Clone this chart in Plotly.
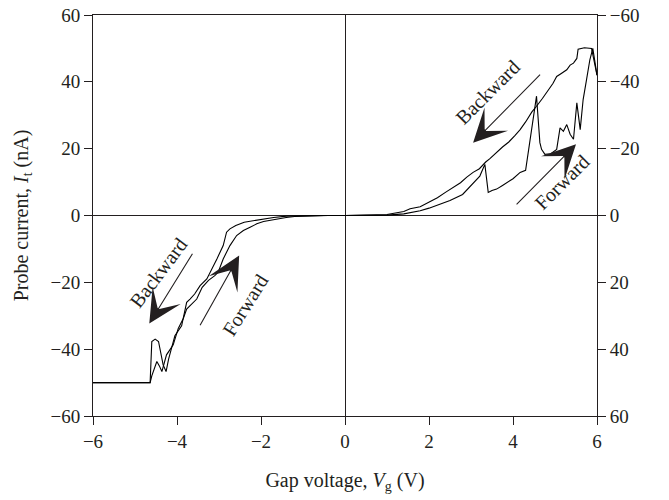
import plotly.graph_objects as go

# Forward sweep (-6 V -> 6 V)
fwd_v = [-6.0, -4.64, -4.60, -4.56, -4.48, -4.42, -4.36, -4.25, -4.09, -3.97, -3.85, -3.77,
         -3.65, -3.53, -3.40, -3.25, -3.10, -3.02, -2.90, -2.82, -2.74, -2.58, -2.42, -2.26,
         -2.10, -1.94, -1.63, -1.40, -1.20, -0.80, -0.40, 0.0, 0.5, 1.0, 1.4, 1.79, 2.0,
         2.26, 2.5, 2.8, 3.0, 3.21, 3.33, 3.41, 3.50, 3.61, 3.75, 3.85, 4.0, 4.17, 4.30,
         4.56, 4.64, 4.68, 4.76, 4.9, 5.04, 5.12, 5.2, 5.28, 5.36, 5.44, 5.52, 5.6, 5.67,
         5.75, 5.83, 5.90, 6.0]
fwd_i = [-50, -50, -48, -46.7, -43.7, -45, -46.7, -41.7, -38.7, -33.8, -30.8, -28,
         -26.5, -25, -21.5, -19.4, -18, -17, -13, -11, -9, -6, -4.5, -3.5,
         -2.5, -1.8, -1.0, -0.6, -0.3, -0.1, 0, 0, 0, 0.1, 0.5, 1.4, 2.2,
         3.4, 4.5, 6.3, 9, 11.8, 15.3, 6.9, 7.5, 7.9, 9, 9.9, 11, 12.9, 13.5,
         35.7, 21.8, 19.8, 18.3, 18.5, 19.8, 26.2, 25.2, 27.2, 24.3, 22.8, 33.7, 25.7, 34.7,
         40.6, 46.6, 50, 42]

# Backward sweep (6 V -> -6 V)
bwd_v = [6.0, 5.87, 5.70, 5.55, 5.52, 5.44, 5.36, 5.28, 5.15, 5.04, 4.95, 4.8, 4.7, 4.56,
         4.45, 4.3, 4.17, 4.05, 3.9, 3.75, 3.61, 3.45, 3.35, 3.2, 3.05, 2.9, 2.75, 2.58,
         2.4, 2.2, 2.0, 1.79, 1.55, 1.4, 1.0, 0.5, 0.0, -0.5, -1.0, -1.39, -1.7, -1.9,
         -2.02, -2.2, -2.4, -2.6, -2.74, -2.82, -2.9, -3.05, -3.18, -3.29, -3.45, -3.58,
         -3.69, -3.77, -3.89, -4.05, -4.13, -4.20, -4.26, -4.33, -4.44, -4.52, -4.60,
         -4.64, -6.0]
bwd_i = [42, 50, 50.2, 49.8, 47, 45.6, 45, 43.6, 42.5, 41.6, 39.5, 36.7, 35, 32.7,
         31, 28, 25.7, 24, 22, 20.5, 18.8, 17, 16, 14, 12.9, 11.5, 9.8, 8.5,
         7, 5.3, 4, 2.6, 2.0, 1.2, 0.3, 0.1, 0, 0, -0.1, -0.2, -0.6, -1.0,
         -1.3, -1.6, -2.0, -3.0, -4, -5, -9, -13, -16, -19, -21, -23.5,
         -25, -26, -33, -36, -39.7, -43, -46.7, -44.7, -37.7, -37, -37.7,
         -50, -50]

x_ticks = [-6, -4, -2, 0, 2, 4, 6]
y_ticks = [-60, -40, -20, 0, 20, 40, 60]

FONT = "Liberation Serif"
INK = "#231f20"

fig = go.Figure()
fig.add_trace(go.Scatter(x=fwd_v, y=fwd_i, mode="lines", name="Forward",
                         line=dict(color="black", width=1.1), showlegend=False))
fig.add_trace(go.Scatter(x=bwd_v, y=bwd_i, mode="lines", name="Backward",
                         line=dict(color="black", width=1.1), showlegend=False))
# carrier for the right-hand (reversed) axis
fig.add_trace(go.Scatter(x=[0], y=[0], yaxis="y2", mode="markers",
                         marker=dict(opacity=0), showlegend=False, hoverinfo="skip"))

axis_common = dict(showgrid=False, showline=True, linecolor=INK, linewidth=1,
                   ticks="outside", ticklen=8, tickwidth=1, tickcolor=INK,
                   ticklabeloverflow="allow",
                   tickfont=dict(family=FONT, size=19, color=INK))

title_font = dict(family=FONT, size=20, color=INK)

fig.update_layout(
    width=669, height=500,
    margin=dict(l=93, r=72, t=15, b=82),
    plot_bgcolor="white", paper_bgcolor="white",
    font=dict(family=FONT, size=19, color=INK),
    xaxis=dict(range=[-6, 6], tickvals=x_ticks, mirror=True, automargin="bottom",
               zeroline=True, zerolinecolor=INK, zerolinewidth=1,
               title=dict(text="Gap voltage, <i>V</i><sub>g</sub> (V)",
                          font=title_font, standoff=22),
               **axis_common),
    yaxis=dict(range=[-60, 60], tickvals=y_ticks, automargin="left",
               zeroline=True, zerolinecolor=INK, zerolinewidth=1,
               title=dict(text="Probe current, <i>I</i><sub>t</sub> (nA)",
                          font=title_font, standoff=16),
               **axis_common),
    yaxis2=dict(range=[60, -60], tickvals=y_ticks, overlaying="y", side="right",
                zeroline=False, automargin=False, **axis_common),
)

ann_font = dict(family=FONT, size=20, color=INK)

def label(text, x, y, angle):
    fig.add_annotation(x=x, y=y, xref="x", yref="y", text=text, showarrow=False,
                       textangle=angle, font=ann_font)

def arrow(x0, y0, x1, y1):
    fig.add_annotation(x=x1, y=y1, ax=x0, ay=y0, xref="x", yref="y",
                       axref="x", ayref="y", text="", showarrow=True,
                       arrowhead=3, arrowsize=5, arrowwidth=1.1, arrowcolor=INK)

label("Backward", -4.45, -17.2, -53)
arrow(-3.61, -11.0, -4.66, -32.3)
label("Forward", -2.38, -26.7, -58)
arrow(-3.47, -33.3, -2.52, -12.0)
label("Backward", 3.4, 37.0, -45)
arrow(4.68, 42.6, 3.05, 21.8)
label("Forward", 5.17, 10.0, -45)
arrow(4.05, 2.9, 5.5, 21.3)

fig.write_html("out.html", config={"displayModeBar": False},
               post_script="document.body.style.margin='0px';document.body.style.overflow='hidden';")
